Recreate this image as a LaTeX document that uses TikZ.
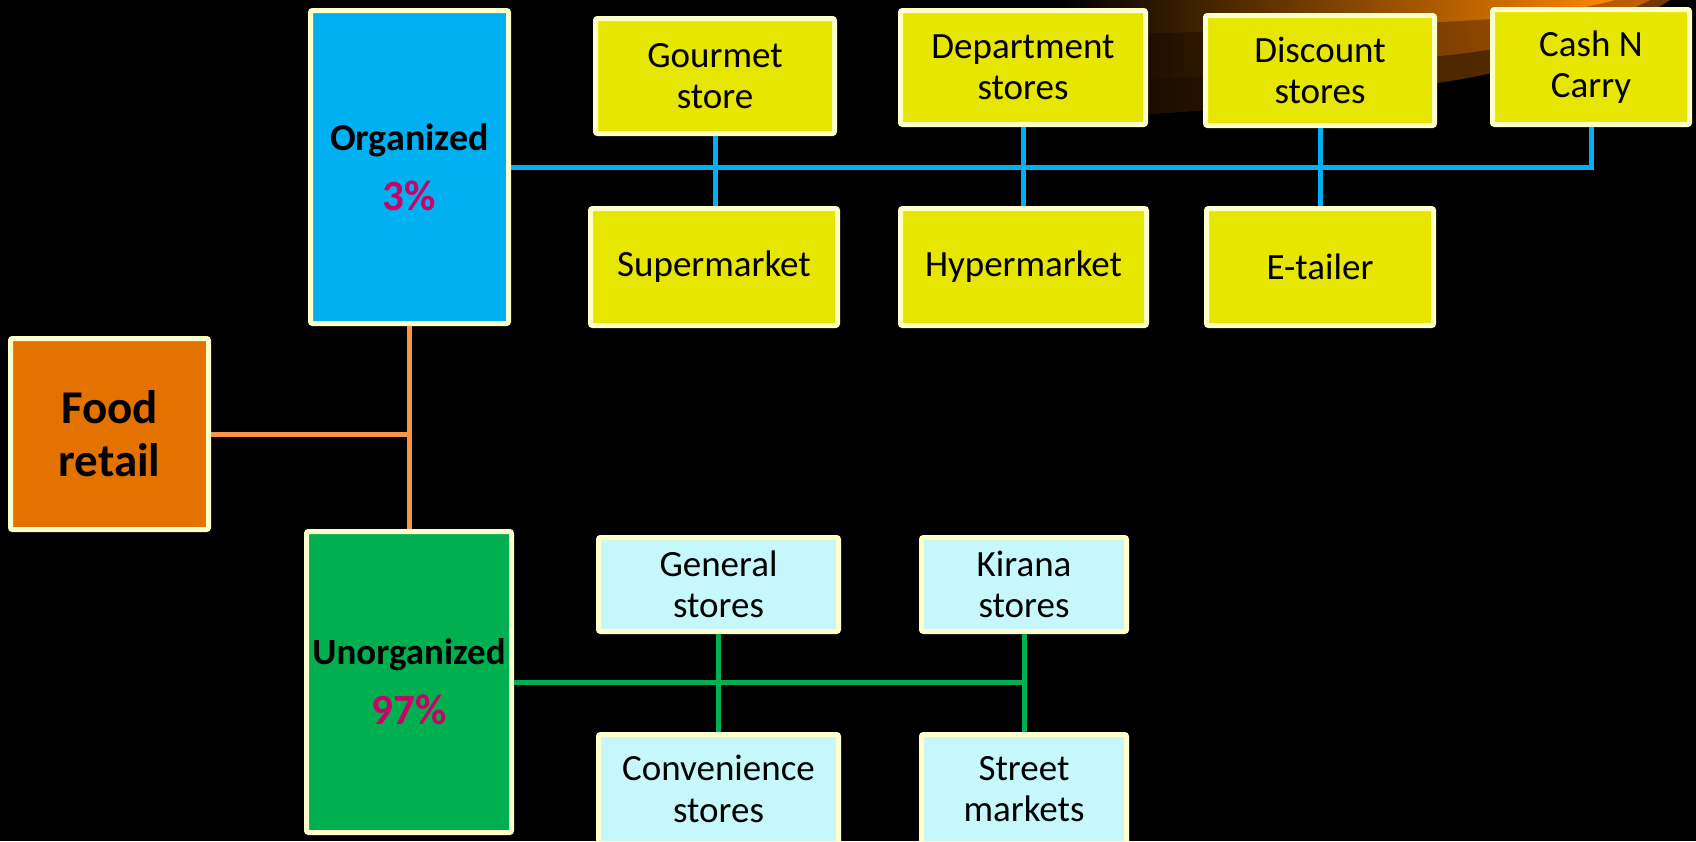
\documentclass[tikz,border=0pt]{standalone}
\usepackage{fontspec}
\setmainfont{Carlito}
\definecolor{cream}{RGB}{255,255,204}
\definecolor{orgblue}{RGB}{0,176,240}
\definecolor{leafyel}{RGB}{230,230,0}
\definecolor{foodorange}{RGB}{228,114,0}
\definecolor{unorggreen}{RGB}{0,176,80}
\definecolor{lightcyan}{RGB}{198,247,250}
\definecolor{pct}{RGB}{204,0,102}
\definecolor{oline}{RGB}{247,150,70}
\definecolor{swA}{RGB}{255,135,0}
\definecolor{swB}{RGB}{195,98,0}
\definecolor{swC}{RGB}{115,58,0}
\definecolor{swL}{RGB}{10,5,0}
\begin{document}
\begin{tikzpicture}[x=1pt,y=-1pt,
  box/.style={draw=cream, line width=5pt, rounded corners=2pt, inner sep=0pt, align=center, text=black},
  leaf/.style={box, fill=leafyel, font=\fontsize{37}{41.5}\selectfont},
  uleaf/.style={box, fill=lightcyan, font=\fontsize{37}{41.5}\selectfont},
  conn/.style={line width=5pt},
]
\fill[black] (0,0) rectangle (1696,841);
\useasboundingbox (0,0) rectangle (1696,841);
\clip (0,0) rectangle (1696,841);
% decorative swoosh
\shade[left color=swL, right color=swC] (1060,0) -- (1670,0) .. controls (1600,45) and (1520,72) .. (1430,84) .. controls (1320,100) and (1220,112) .. (1060,119) -- cycle;
\shade[left color=black, right color=swB] (1060,0) -- (1650,0) .. controls (1590,30) and (1520,48) .. (1440,56) .. controls (1340,68) and (1240,77) .. (1060,82) -- cycle;
\shade[left color=black, right color=swA] (1060,0) -- (1615,0) .. controls (1570,12) and (1510,19) .. (1440,22) .. controls (1330,28) and (1240,32) .. (1060,35) -- cycle;

% nodes
\node[box, fill=orgblue, minimum width=198pt, minimum height=313pt, font=\fontsize{38}{60}\selectfont] (org) at (409.5,167) {\textbf{Organized}\\{\fontsize{43}{60}\selectfont\bfseries\color{pct}3\%}};
\node[leaf, minimum width=239pt, minimum height=115pt] (gour) at (715,76) {Gourmet\\store};
\node[leaf, minimum width=245pt, minimum height=114pt] (dept) at (1023,67.5) {Department\\stores};
\node[leaf, minimum width=229pt, minimum height=110pt] (disc) at (1320,70.5) {Discount\\stores};
\node[leaf, minimum width=197pt, minimum height=115pt] (cash) at (1591,67) {Cash N\\Carry};
\node[leaf, minimum width=247pt, minimum height=117pt] (sup) at (714,267) {Supermarket};
\node[leaf, minimum width=246pt, minimum height=117pt] (hyp) at (1023.5,267) {Hypermarket};
\node[leaf, minimum width=227pt, minimum height=117pt] (etail) at (1320,267) {E-tailer};
\node[box, fill=foodorange, minimum width=198pt, minimum height=191pt, font=\fontsize{47}{53}\selectfont\bfseries] (food) at (109.5,434) {Food\\retail};
\node[box, fill=unorggreen, minimum width=205pt, minimum height=301pt, font=\fontsize{37}{60}\selectfont] (unorg) at (409,682) {\textbf{Unorganized}\\{\fontsize{43}{60}\selectfont\bfseries\color{pct}97\%}};
\node[uleaf, minimum width=240pt, minimum height=94pt] (gen) at (718.5,584.5) {General\\stores};
\node[uleaf, minimum width=205pt, minimum height=94pt] (kir) at (1024,584.5) {Kirana\\stores};
\node[uleaf, minimum width=240pt, minimum height=109pt] (conv) at (718.5,789) {Convenience\\stores};
\node[uleaf, minimum width=205pt, minimum height=109pt] (str) at (1024,789) {Street\\markets};

% connectors
\draw[conn, orgblue] (org.east) -- (org.east -| cash.south) -- (cash.south);
\draw[conn, orgblue] (gour.south) -- (gour.south |- sup.north);
\draw[conn, orgblue] (dept.south) -- (dept.south |- hyp.north);
\draw[conn, orgblue] (disc.south) -- (disc.south |- etail.north);
\draw[conn, oline] (food.east) -- (food.east -| org.south);
\draw[conn, oline] (org.south) -- (org.south |- unorg.north);
\draw[conn, unorggreen] (unorg.east) -- (unorg.east -| kir.south);
\draw[conn, unorggreen] (gen.south) -- (gen.south |- conv.north);
\draw[conn, unorggreen] (kir.south) -- (kir.south |- str.north);
\end{tikzpicture}
\end{document}
